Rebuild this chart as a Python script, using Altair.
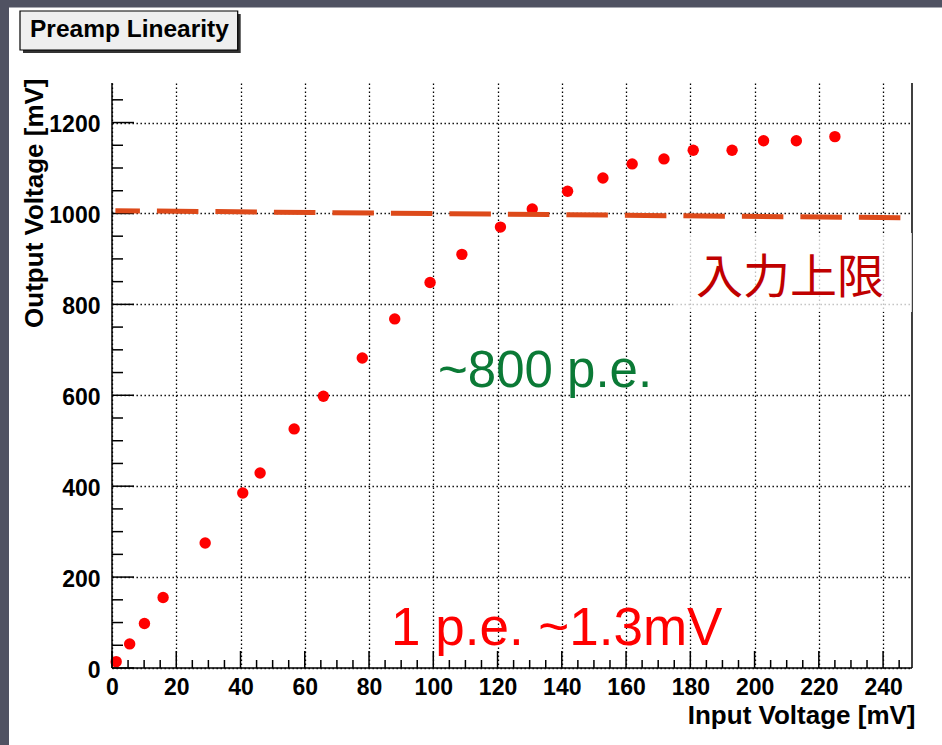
import altair as alt
import pandas as pd

# ---- data ----
x_in = [1.3, 5.5, 10.1, 15.9, 29.0, 40.7, 46.1, 56.7, 65.8, 77.9, 88.0, 99.0,
        108.9, 120.9, 130.8, 141.8, 152.8, 161.9, 171.8, 180.9, 193.0, 202.8,
        213.0, 225.0]
y_out = [14, 53, 98, 155, 275, 385, 429, 526, 598, 682, 768, 848,
         910, 970, 1010, 1049, 1078, 1109, 1120, 1139, 1139, 1160,
         1160, 1169]

x_labels = [0, 20, 40, 60, 80, 100, 120, 140, 160, 180, 200, 220, 240]
y_labels = [0, 200, 400, 600, 800, 1000, 1200]
x_minor = [5, 10, 15, 25, 30, 35, 45, 50, 55, 65, 70, 75, 85, 90, 95,
           105, 110, 115, 125, 130, 135, 145, 150, 155, 165, 170, 175,
           185, 190, 195, 205, 210, 215, 225, 230, 235, 245]
y_minor = [50, 100, 150, 250, 300, 350, 450, 500, 550, 650, 700, 750,
           850, 900, 950, 1050, 1100, 1150, 1250]

limit_x = [1.06, 245.5]
limit_y = [1006, 990.6]

X_DOM = [0, 249]
Y_DOM = [0, 1287]
W, H = 800, 585

FONT = "Liberation Sans"

xs = alt.Scale(domain=X_DOM, nice=False, zero=False)
ys = alt.Scale(domain=Y_DOM, nice=False, zero=False)

pts = pd.DataFrame({"x": x_in, "y": y_out})
lim = pd.DataFrame({"x": limit_x, "y": limit_y})
one = pd.DataFrame({"k": [0]})

common_axis = dict(
    grid=True, gridDash=[1.4, 2.6], gridColor="#000000", gridWidth=1.3, gridOpacity=1,
    domain=False, ticks=False, format="d",
    labelFont=FONT, labelFontSize=23, labelFontWeight="bold", labelColor="black",
    labelFlush=False, labelOverlap=False,
    titleFont=FONT, titleFontSize=26, titleFontWeight="bold", titleColor="black",
    titleBaseline="alphabetic", titleAlign="right",
)

x_axis = alt.Axis(
    values=x_labels, title="Input Voltage [mV]",
    titleX=803, titleY=55, labelPadding=8, **common_axis,
)
y_axis = alt.Axis(
    values=y_labels, title="Output Voltage [mV]",
    titleAngle=270, titleX=-70, titleY=-5, labelPadding=12, labelOffset=2,
    **common_axis,
)

points = alt.Chart(pts).mark_circle(size=130, color="#ff0000", opacity=1).encode(
    x=alt.X("x:Q", scale=xs, axis=x_axis),
    y=alt.Y("y:Q", scale=ys, axis=y_axis),
)

limit_line = alt.Chart(lim).mark_line(
    color="#dd4a1a", strokeWidth=5, strokeDash=[41.5, 17], strokeDashOffset=17,
    strokeCap="butt",
).encode(
    x=alt.X("x:Q", scale=xs, axis=None),
    y=alt.Y("y:Q", scale=ys, axis=None),
)

frame_left = alt.Chart(one).mark_rule(color="black", strokeWidth=1.5).encode(
    x=alt.value(0), y=alt.value(0), y2=alt.value(H))
frame_bottom = alt.Chart(one).mark_rule(color="black", strokeWidth=1.5).encode(
    x=alt.value(0), x2=alt.value(W), y=alt.value(H))
frame_right = alt.Chart(one).mark_rule(color="black", strokeWidth=1.5).encode(
    x=alt.value(W), y=alt.value(0), y2=alt.value(H))

def yticks(vals, length):
    return alt.Chart(pd.DataFrame({"v": vals})).mark_rule(color="black", strokeWidth=1.5).encode(
        y=alt.Y("v:Q", scale=ys, axis=None), x=alt.value(0), x2=alt.value(length))

def xticks(vals, length):
    return alt.Chart(pd.DataFrame({"v": vals})).mark_rule(color="black", strokeWidth=1.5).encode(
        x=alt.X("v:Q", scale=xs, axis=None), y=alt.value(H), y2=alt.value(H - length))

note_box = alt.Chart(one).mark_rect(color="white", opacity=0.75).encode(
    x=alt.value(561), x2=alt.value(800), y=alt.value(150), y2=alt.value(229))

note_limit = alt.Chart(one).mark_text(
    font="Noto Sans CJK JP", fontSize=47, color="#c00000", align="center",
    baseline="alphabetic").encode(x=alt.value(678), y=alt.value(210), text=alt.value("入力上限"))
note_pe = alt.Chart(one).mark_text(
    font=FONT, fontSize=51, color="#0b7a36", align="left",
    baseline="alphabetic").encode(x=alt.value(326), y=alt.value(304), text=alt.value("~800 p.e."))
note_gain = alt.Chart(one).mark_text(
    font=FONT, fontSize=53, color="#ff0000", align="left",
    baseline="alphabetic").encode(x=alt.value(279), y=alt.value(562), text=alt.value("1 p.e. ~1.3mV"))

# slide background strips and ROOT title box
strip_left = alt.Chart(one).mark_rect(color="#505262").encode(
    x=alt.value(-112), x2=alt.value(-103), y=alt.value(-83), y2=alt.value(662))
strip_top = alt.Chart(one).mark_rect(color="#505262").encode(
    x=alt.value(-112), x2=alt.value(830), y=alt.value(-83), y2=alt.value(-75.5))
title_shadow = alt.Chart(one).mark_rect(color="#333333").encode(
    x=alt.value(-89), x2=alt.value(128.7), y=alt.value(-69), y2=alt.value(-30))
title_box = alt.Chart(one).mark_rect(fill="#efefef", stroke="black", strokeWidth=1.2).encode(
    x=alt.value(-92), x2=alt.value(125.7), y=alt.value(-72), y2=alt.value(-33))
title_text = alt.Chart(one).mark_text(
    font=FONT, fontSize=24.5, fontWeight="bold", color="black", align="left",
    baseline="alphabetic").encode(x=alt.value(-82), y=alt.value(-46), text=alt.value("Preamp Linearity"))

chart = alt.layer(
    points,
    frame_left, frame_bottom, frame_right,
    yticks(y_labels, 22), yticks(y_minor, 11),
    xticks(x_labels, 17), xticks(x_minor, 8),
    limit_line,
    note_box, note_limit, note_pe, note_gain,
    strip_left, strip_top, title_shadow, title_box, title_text,
).resolve_axis(
    x="independent", y="independent"
).properties(
    width=W, height=H,
    padding={"left": 112, "top": 83, "right": 30, "bottom": 77},
    autosize=alt.AutoSizeParams(type="none"),
    background="white",
).configure_view(
    stroke=None
)

chart.save("out.html", embed_options={"renderer": "svg", "actions": False})
